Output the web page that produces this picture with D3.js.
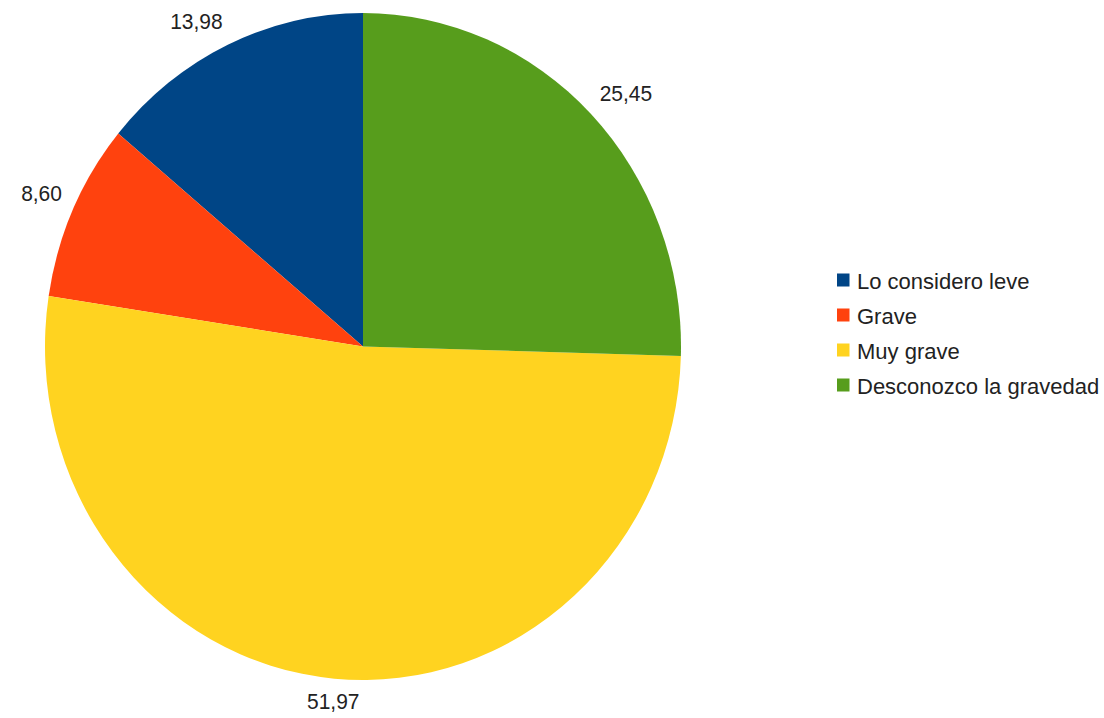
<!DOCTYPE html>
<html><head><meta charset="utf-8">
<script src="https://cdn.jsdelivr.net/npm/d3@7"></script>
<style>body{margin:0;background:#fff}svg{display:block}text{font-family:"Liberation Sans",Arial,sans-serif}</style>
</head><body>
<svg id="c" width="1104" height="718"></svg>
<script>
const categories = ["Lo considero leve", "Grave", "Muy grave", "Desconozco la gravedad"];
const values = [13.98, 8.60, 51.97, 25.45];
const colors = ["#004586", "#ff420e", "#ffd320", "#579d1c"];
const valueLabels = ["13,98", "8,60", "51,97", "25,45"];

const svg = d3.select("#c");
const cx = 363, cy = 346.5, r = 318, k = 1.0487;
const fs = 21;

const pie = d3.pie().sort(null).startAngle(0).endAngle(-2 * Math.PI).value(d => d);
const arcs = pie(values);
const arc = d3.arc().innerRadius(0).outerRadius(r);

const g = svg.append("g").attr("transform", `translate(${cx},${cy}) scale(1,${k})`);
g.selectAll("path").data(arcs).enter().append("path")
  .attr("d", arc).attr("fill", (d, i) => colors[i]);

// value labels
arcs.forEach((a, i) => {
  const th = (a.startAngle + a.endAngle) / 2;
  const s = Math.sin(th), c = -Math.cos(th);
  const px = (r + 12) * s, py = (r + 12) * c;
  const t = svg.append("text").attr("font-size", fs).attr("fill", "#222")
    .attr("text-anchor", "middle").attr("dominant-baseline", "central")
    .text(valueLabels[i]);
  const bb = t.node().getBBox();
  const hw = bb.width / 2, hh = fs * 0.5;
  const ox = Math.abs(s) < 0.3 ? 0 : Math.sign(s) * hw;
  const oy = Math.abs(c) < 0.3 ? 0 : Math.sign(c) * hh;
  const x = cx + px + ox, y = cy + (py + oy) * k;
  t.attr("transform", `translate(${x},${y}) scale(1,${k})`);
});

// legend
const lg = svg.append("g");
categories.forEach((name, i) => {
  const y = 280 + i * 35;
  lg.append("rect").attr("x", 837).attr("y", y - 6.5).attr("width", 12.5).attr("height", 13)
    .attr("fill", colors[i]);
  lg.append("text").attr("font-size", 22).attr("fill", "#222")
    .attr("dominant-baseline", "central")
    .attr("x", 857).attr("y", y + 1)
    .text(name);
});
</script>
</body></html>
